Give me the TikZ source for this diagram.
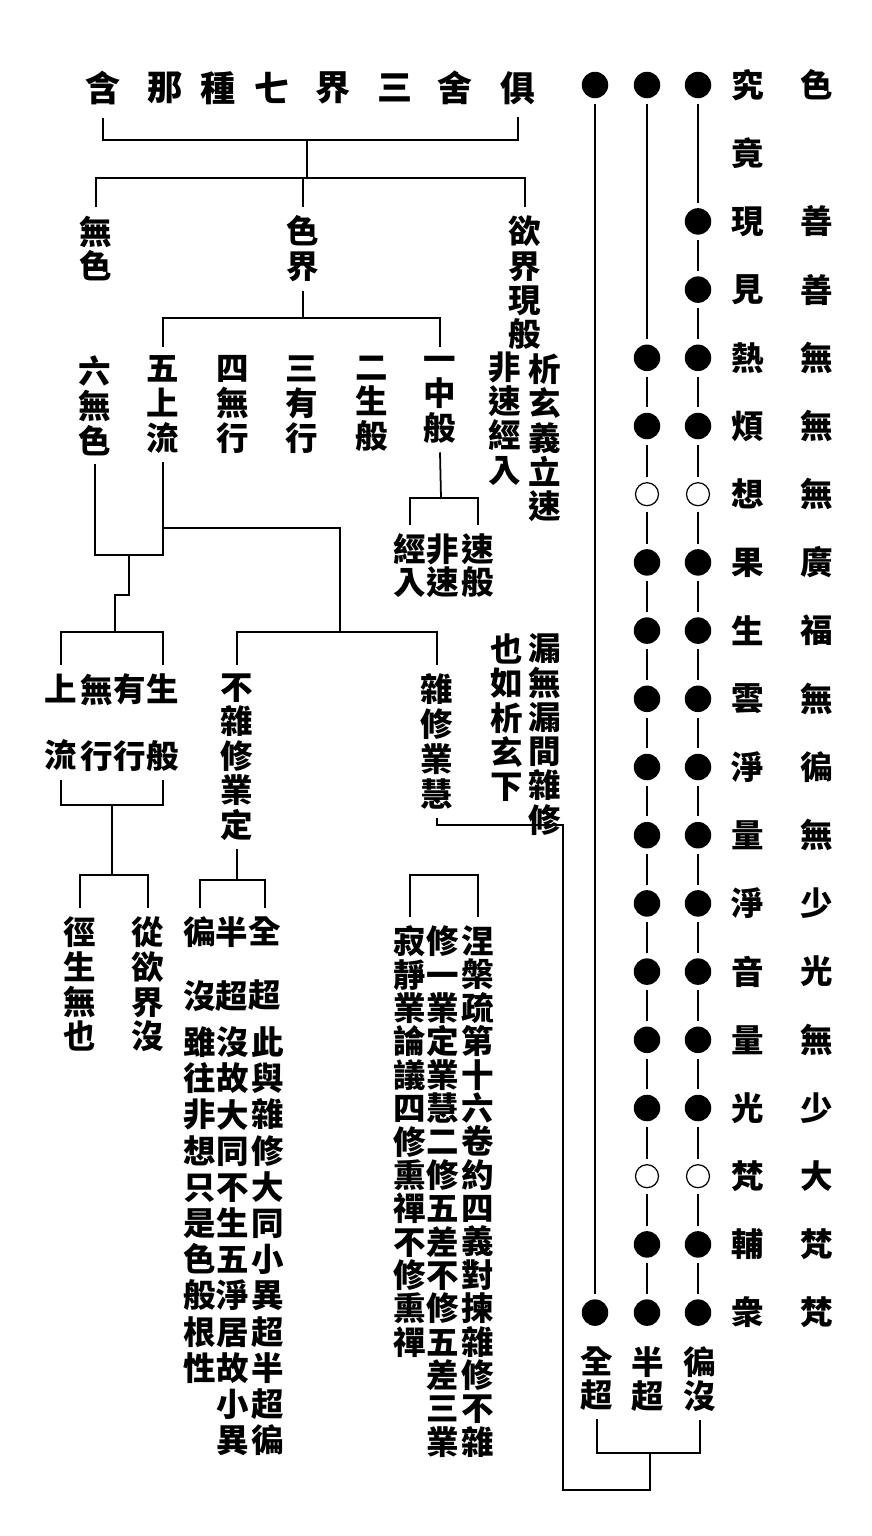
\documentclass[tikz,border=0pt]{standalone}
\usepackage{fontspec}
\newfontfamily\cjk{Noto Sans CJK TC}
\usetikzlibrary{calc}
\tikzset{
  vcol/.style={align=center, inner sep=0pt, outer sep=5pt, anchor=north,
    font=\cjk\bfseries\fontsize{18.5}{#1}\selectfont},
  vcol/.default=19.8,
  hchar/.style={inner sep=0pt, font=\cjk\bfseries\fontsize{18.5}{20}\selectfont},
  tchar/.style={inner sep=0pt, font=\cjk\bfseries\fontsize{20}{22}\selectfont},
  br/.style={line width=1pt},
  lk/.style={line width=1pt, shorten <=3pt, shorten >=3pt},
  dot/.style={circle, fill, inner sep=0pt, minimum size=0.53cm},
  hole/.style={circle, draw, line width=0.7pt, inner sep=0pt, minimum size=0.46cm},
}
\begin{document}
\begin{tikzpicture}[x=0.02cm, y=-0.02cm]
\useasboundingbox (0,0) rectangle (872,1536);

% title, read from right to left
\foreach \c/\x [count=\i] in {含/103,那/165,種/218,七/272,界/333,三/395,舍/455,俱/518}
  \node[tchar] (t\i) at (\x,88) {\c};
\coordinate (tb) at (307,140);
\coordinate (tc) at (307,178);
\draw[br] ([yshift=-7pt]t1.south) |- (tb) -| ([yshift=-7pt]t8.south);
\draw[br] (tb) -- (tc);

% three realms
\node[vcol] (wuse) at (96,207) {無\\色};
\node[vcol] (sejie) at (303,207) {色\\界};
\node[vcol=19.6] (yujie) at (525,207) {欲\\界\\現\\般};
\node[vcol=19.5] (xixuan) at (545,345) {析\\玄\\義\\立\\速};
\node[vcol=19.5] (feisu) at (505,343) {非\\速\\經\\入};
\draw[br] (wuse.north) |- (tc) -| (yujie.north);
\draw[br] (tc) -- (tc -| sejie.north) -- (sejie.north);

% six kinds in the form realm
\coordinate (sc) at (303,318);
\node[vcol] (g6) at (95,347) {六\\無\\色};
\node[vcol] (g5) at (163,347) {五\\上\\流};
\node[vcol] (g4) at (233,347) {四\\無\\行};
\node[vcol] (g3) at (302,347) {三\\有\\行};
\node[vcol] (g2) at (372,347) {二\\生\\般};
\node[vcol] (g1) at (440,347) {一\\中\\般};
\draw[br] (sejie.south) -- (sc);
\draw[br] (g5.north) |- (sc) -| (g1.north);

% under the first
\coordinate (zc) at (441,498);
\node[vcol=18.7] (s1) at (478,525) {速\\般};
\node[vcol=18.7] (s2) at (443,525) {非\\速};
\node[vcol=18.7] (s3) at (410,525) {經\\入};
\draw[br] (g1.south) -- (zc);
\draw[br] (s3.north) |- (zc) -| (s1.north);

% six and five joined
\coordinate (lj) at (129,555);
\coordinate (lb) at (115,632);
\draw[br] (g6.south) |- (lj) -| (g5.south);
\draw[br] (lj) -- (129,595) -- (115,595) -- (lb);
\node[vcol=38] (u1) at (163,665) {生\\般};
\node[vcol=38] (u2) at (130,665) {有\\行};
\node[vcol=38] (u3) at (97,665) {無\\行};
\node[vcol=38] (u4) at (61,665) {上\\流};
\draw[br] (u4.north) |- (lb) -| (u1.north);
\coordinate (ub) at (112,805);
\coordinate (vb) at (112,875);
\draw[br] (u4.south) |- (ub) -| (u1.south);
\draw[br] (ub) -- (vb);
\node[vcol] (v1) at (80,908) {徑\\生\\無\\也};
\node[vcol] (v2) at (148,908) {從\\欲\\界\\沒};
\draw[br] (v1.north) |- (vb) -| (v2.north);

% mixed and unmixed practice
\coordinate (mj) at (340,528);
\coordinate (mb) at (340,632);
\draw[br] (g5.south |- mj) -- (mj) -- (mb);
\node[vcol=19.6] (bz) at (237,665) {不\\雜\\修\\業\\定};
\node[vcol] (zx) at (437,665) {雜\\修\\業\\慧};
\draw[br] (bz.north) |- (mb) -| (zx.north);
\node[vcol=19.5] (lou) at (545,625) {漏\\無\\漏\\間\\雜\\修};
\node[vcol=19.5] (ye) at (507,625) {也\\如\\析\\玄\\下};

\coordinate (cb) at (233,880);
\draw[br] (bz.south) -- (bz.south |- cb);
\node[vcol=36.3] (p1) at (265,908) {全\\超};
\node[vcol=36.3] (p2) at (232,908) {半\\超};
\node[vcol=36.3] (p3) at (200,908) {徧\\沒};
\draw[br] (p3.north) |- (cb) -| (p1.north);
\node[vcol=20.6] (n1) at (268,1018) {此\\與\\雜\\修\\大\\同\\小\\異\\超\\半\\超\\徧};
\node[vcol=20.6] (n2) at (233,1018) {沒\\故\\大\\同\\不\\生\\五\\淨\\居\\故\\小\\異};
\node[vcol=20.6] (n3) at (200,1018) {雖\\往\\非\\想\\只\\是\\色\\般\\根\\性};

\coordinate (nb) at (444,875);
\node[vcol=19] (r1) at (478,917) {涅\\槃\\疏\\第\\十\\六\\卷\\約\\四\\義\\對\\揀\\雜\\修\\不\\雜};
\node[vcol=19] (r2) at (443,917) {修\\一\\業\\定\\業\\慧\\二\\修\\五\\差\\不\\修\\五\\差\\三\\業};
\node[vcol=19] (r3) at (410,917) {寂\\靜\\業\\論\\議\\四\\修\\熏\\禪\\不\\修\\熏\\禪};
\draw[br] (r3.north) |- (nb) -| (r1.north);

% eighteen heavens of the form realm
\foreach \c [count=\i from 0] in {究,竟,現,見,熱,煩,想,果,生,雲,淨,量,淨,音,量,光,梵,輔,衆}
  \node[hchar] (h\i) at (748,{85+68.2*\i}) {\c};
\foreach \c [count=\i from 0] in {色,,善,善,無,無,無,廣,福,無,徧,無,少,光,無,少,大,梵,梵}
  \node[hchar] (f\i) at (817,{85+68.2*\i}) {\c};

\foreach \i in {0,18}
  \node[dot] (a\i) at (595,{85+68.2*\i}) {};
\foreach \i in {0,4,5,7,8,...,15,17,18}
  \node[dot] (b\i) at (647,{85+68.2*\i}) {};
\foreach \i in {0,2,3,4,5,7,8,...,15,17,18}
  \node[dot] (c\i) at (698,{85+68.2*\i}) {};
\foreach \i in {6,16} {
  \node[hole] (b\i) at (647,{85+68.2*\i}) {};
  \node[hole] (c\i) at (698,{85+68.2*\i}) {};
}
\draw[lk] (a0) -- (a18);
\draw[lk] (b0) -- (b4);
\draw[lk] (c0) -- (c2);
\foreach \i [evaluate=\i as \j using int(\i+1)] in {4,...,17}
  \draw[lk] (b\i) -- (b\j);
\foreach \i [evaluate=\i as \j using int(\i+1)] in {2,...,17}
  \draw[lk] (c\i) -- (c\j);

\node[vcol=19.3] (k1) at (597,1338) {全\\超};
\node[vcol=19.3] (k2) at (648,1338) {半\\超};
\node[vcol=19.3] (k3) at (700,1338) {徧\\沒};
\coordinate (kb) at (650,1453);
\coordinate (kz) at (650,1490);
\coordinate (zr) at (563,825);
\draw[br] (k1.south) |- (kb) -| (k3.south);
\draw[br] (zx.south) |- (zr) |- (kz) -- (kb);
\end{tikzpicture}
\end{document}
